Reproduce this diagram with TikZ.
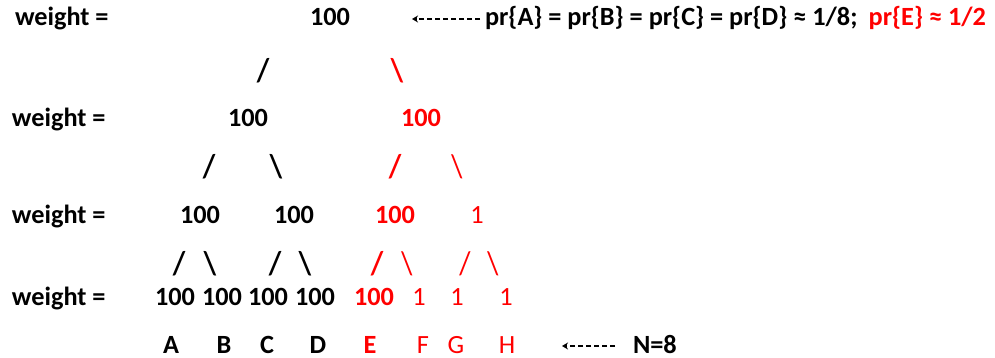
\documentclass[tikz,border=0pt]{standalone}
\usepackage{fontspec}
\setmainfont{Carlito}
\usetikzlibrary{arrows.meta}
\begin{document}
\begin{tikzpicture}[x=1pt,y=-1pt,
  every node/.style={inner sep=0pt, outer sep=0pt},
  blk/.style={text=black, font=\fontsize{26.3}{30}\selectfont\bfseries},
  rb/.style={text=red, font=\fontsize{26.3}{30}\selectfont\bfseries},
  rn/.style={text=red, font=\fontsize{26.3}{30}\selectfont},
  sl/.style={yscale=1.25, xscale=1.1},
  larrow/.style={draw=black, line width=1.3pt, dash pattern=on 5pt off 3pt, -{Stealth[length=6pt,width=7pt]}}]
\useasboundingbox (0,0) rectangle (995,358);
% row 1
\node[blk, anchor=base west] (w1) at (15,26) {weight =};
\node[blk, anchor=base] (n1) at (330,26) {100};
\node[blk, anchor=base west] (pr) at (485,26) {pr\{A\} = pr\{B\} = pr\{C\} = pr\{D\} ≈ 1/8;};
\node[rb, anchor=base east] (pre) at (986,26) {pr\{E\} ≈ 1/2};
\coordinate (a1) at (412,19);
\draw[larrow] ([xshift=-5pt]pr.west |- a1) -- (a1);
% slashes 1
\node[blk, sl] (s1a) at (263,71) {/};
\node[rb, sl] (s1b) at (397,71) {\textbackslash};
% row 2
\node[blk, anchor=base west] (w2) at (12,127) {weight =};
\node[blk, anchor=base] (n2a) at (248,127) {100};
\node[rb, anchor=base] (n2b) at (421,127) {100};
% slashes 2
\node[blk, sl] (s2a) at (209,167) {/};
\node[blk, sl] (s2b) at (276,167) {\textbackslash};
\node[rb, sl] (s2c) at (395,167) {/};
\node[rn, sl] (s2d) at (457,167) {\textbackslash};
% row 3
\node[blk, anchor=base west] (w3) at (12,223) {weight =};
\node[blk, anchor=base] (n3a) at (200,223) {100};
\node[blk, anchor=base] (n3b) at (294,223) {100};
\node[rb, anchor=base] (n3c) at (395,223) {100};
\node[rn, anchor=base] (n3d) at (477,223) {1};
% slashes 3
\node[blk, sl] (s3a) at (179,264) {/};
\node[blk, sl] (s3b) at (210,264) {\textbackslash};
\node[blk, sl] (s3c) at (275,264) {/};
\node[blk, sl] (s3d) at (305,264) {\textbackslash};
\node[rb, sl] (s3e) at (377,264) {/};
\node[rn, sl] (s3f) at (407,264) {\textbackslash};
\node[rn, sl] (s3g) at (465,264) {/};
\node[rn, sl] (s3h) at (493,264) {\textbackslash};
% row 4
\node[blk, anchor=base west] (w4) at (12,305) {weight =};
\node[blk, anchor=base] (n4a) at (175,305) {100};
\node[blk, anchor=base] (n4b) at (222,305) {100};
\node[blk, anchor=base] (n4c) at (268,305) {100};
\node[blk, anchor=base] (n4d) at (315,305) {100};
\node[rb, anchor=base] (n4e) at (374,305) {100};
\node[rn, anchor=base] (n4f) at (419,305) {1};
\node[rn, anchor=base] (n4g) at (457,305) {1};
\node[rn, anchor=base] (n4h) at (506,305) {1};
% row 5
\node[blk, anchor=base] (lA) at (171,353) {A};
\node[blk, anchor=base] (lB) at (224,353) {B};
\node[blk, anchor=base] (lC) at (267,353) {C};
\node[blk, anchor=base] (lD) at (318,353) {D};
\node[rb, anchor=base] (lE) at (370,353) {E};
\node[rn, anchor=base] (lF) at (423,353) {F};
\node[rn, anchor=base] (lG) at (456,353) {G};
\node[rn, anchor=base] (lH) at (507,353) {H};
\node[blk, anchor=base west] (nN) at (633,353) {N=8};
\coordinate (a2) at (562,346);
\draw[larrow] ([xshift=-18pt]nN.west |- a2) -- (a2);
\end{tikzpicture}
\end{document}
